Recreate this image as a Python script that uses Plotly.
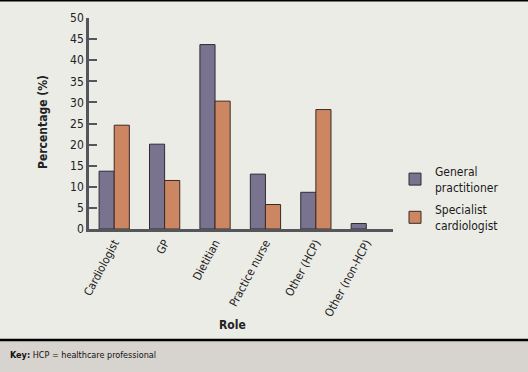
import plotly.graph_objects as go

roles = ["Cardiologist", "GP", "Dietitian", "Practice nurse", "Other (HCP)", "Other (non-HCP)"]
general_practitioner = [13.7, 20.1, 43.7, 13.0, 8.7, 1.3]
specialist_cardiologist = [24.6, 11.5, 30.3, 5.8, 28.3, None]
y_ticks = [0, 5, 10, 15, 20, 25, 30, 35, 40, 45, 50]

FONT = "Liberation Sans Narrow, Arial Narrow, DejaVu Sans Condensed, sans-serif"
W, H = 528, 372
L, R, T, B = 89, 135, 18, 143
pw, ph = W - L - R, H - T - B

def px_x(x):
    return (x - L) / pw

def px_y(y):
    return (H - B - y) / ph

fig = go.Figure()
fig.add_trace(go.Bar(x=roles, y=general_practitioner, name="General<br>practitioner",
                     legendgroup="a",
                     marker=dict(color="#79738f", line=dict(color="#2e2b33", width=1))))
fig.add_trace(go.Bar(x=roles, y=specialist_cardiologist, name="Specialist<br>cardiologist",
                     legendgroup="b",
                     marker=dict(color="#cc8762", line=dict(color="#3a2a22", width=1))))

fig.update_layout(
    width=W, height=H,
    margin=dict(l=L, r=R, t=T, b=B, autoexpand=False),
    paper_bgcolor="#ecece7", plot_bgcolor="#ecece7",
    barmode="group", bargap=0.4, bargroupgap=0,
    font=dict(family=FONT, size=12, color="#222222"),
    showlegend=True,
    legend=dict(x=px_x(395), y=px_y(157), xanchor="left", yanchor="top",
                bgcolor="rgba(0,0,0,0)", font=dict(size=12, color="#1a1a1a"),
                tracegroupgap=4, itemwidth=30),
    xaxis=dict(showline=True, linecolor="#55555c", linewidth=2.5, ticks="",
               tickangle=-62, tickfont=dict(size=11.5), showgrid=False, automargin=False,
               range=[-0.5, 5.53], zeroline=False),
    yaxis=dict(range=[0, 50], tickvals=y_ticks, showline=True, linecolor="#55555c",
               linewidth=2.5, ticks="inside", ticklen=8, tickwidth=2, tickcolor="#55555c",
               tickfont=dict(size=12), showgrid=False, zeroline=False, automargin=False),
    annotations=[
        dict(text="<b>Percentage (%)</b>", textangle=-90, xref="paper", yref="paper",
             x=px_x(43), y=px_y(122), xanchor="center", yanchor="middle",
             showarrow=False, font=dict(size=12)),
        dict(text="<b>Role</b>", xref="paper", yref="paper",
             x=px_x(232), y=px_y(325), xanchor="center", yanchor="middle",
             showarrow=False, font=dict(size=12)),
        dict(text="<b>Key:</b> HCP = healthcare professional", xref="paper", yref="paper",
             x=px_x(8), y=px_y(355), xanchor="left", yanchor="middle", showarrow=False,
             font=dict(size=9, color="#111111")),
    ],
    shapes=[
        dict(type="rect", xref="paper", yref="paper", x0=px_x(0), x1=px_x(W),
             y0=px_y(340), y1=px_y(H), fillcolor="#d7d3ce", line=dict(width=0), layer="below"),
        dict(type="line", xref="paper", yref="paper", x0=px_x(0), x1=px_x(W),
             y0=px_y(340), y1=px_y(340), line=dict(color="#000000", width=2.5)),
        dict(type="line", xref="paper", yref="paper", x0=px_x(0), x1=px_x(W),
             y0=px_y(0.5), y1=px_y(0.5), line=dict(color="#000000", width=2)),
    ],
)

fig.write_html("out.html", config={"displayModeBar": False},
               post_script="document.body.style.margin='0';document.body.style.overflow='hidden';")
